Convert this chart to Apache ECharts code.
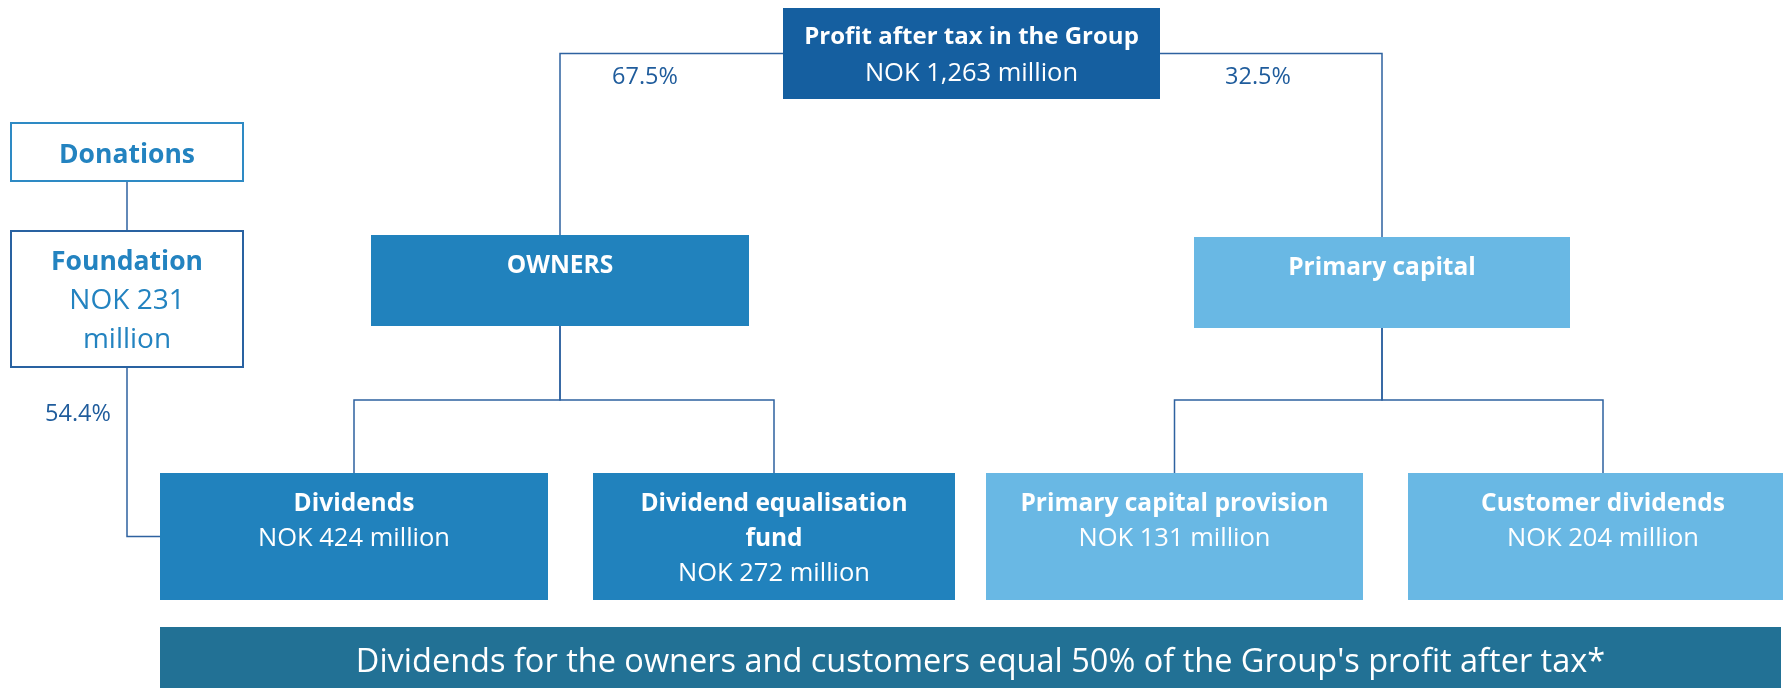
<!DOCTYPE html>
<html>
<head>
<meta charset="utf-8">
<script src="https://cdn.jsdelivr.net/npm/echarts@6/dist/echarts.min.js"></script>
<style>
  html, body { margin: 0; padding: 0; background: #fff; }
  #chart { width: 1783px; height: 688px; }
</style>
</head>
<body>
<div id="chart"></div>
<script>
// box texts (bold title lines, regular amount lines)
const boxTitles = [
  ['Profit after tax in the Group'],
  ['Donations'],
  ['Foundation'],
  ['OWNERS'],
  ['Primary capital'],
  ['Dividends'],
  ['Dividend equalisation', 'fund'],
  ['Primary capital provision'],
  ['Customer dividends']
]
const boxAmounts = [
  ['NOK 1,263 million'],
  [],
  ['NOK 231', 'million'],
  [],
  [],
  ['NOK 424 million'],
  ['NOK 272 million'],
  ['NOK 131 million'],
  ['NOK 204 million']
]
const shareLabels = ['67.5%', '32.5%', '54.4%']
const footnote = "Dividends for the owners and customers equal 50% of the Group's profit after tax*"

// layout (chart units = px of the 1783x688 canvas)
const boxRects = [
  [783, 8, 1160, 99],
  [11, 123, 243, 181],
  [11, 231, 243, 367],
  [371, 235, 749, 326],
  [1194, 237, 1570, 328],
  [160, 473, 548, 600],
  [593, 473, 955, 600],
  [986, 473, 1363, 600],
  [1408, 473, 1798, 600]
]
const boxKinds = ['dark', 'outline', 'outline2', 'mid', 'light', 'mid', 'mid', 'light', 'light']
const bannerRect = [160, 627, 1781, 688]
const sharePos = [[645, 77], [1258, 77], [78, 414]]
// [type, from, to, busY]
const links = [
  ['side', 0, 3], ['side', 0, 4],
  ['tree', 3, 5, 400], ['tree', 3, 6, 400],
  ['tree', 4, 7, 400], ['tree', 4, 8, 400],
  ['tree', 1, 2, 205], ['elbow', 2, 5]
]

const font = '"Open Sans", "Noto Sans", sans-serif'
const kindStyle = {
  dark: { fill: '#155fa0', stroke: null, text: '#fff' },
  mid: { fill: '#2182bd', stroke: null, text: '#fff' },
  light: { fill: '#69b8e4', stroke: null, text: '#fff' },
  outline: { fill: '#fff', stroke: '#2e8ac4', text: '#2383c0' },
  outline2: { fill: '#fff', stroke: '#2962a1', text: '#2383c0' }
}
// [title size, amount size, line step, first line offset]
const kindFont = {
  dark: [24, 25.5, 37, 29],
  mid: [24.5, 25.5, 35, 31],
  light: [24.5, 25.5, 35, 31],
  outline: [26.5, 28, 38, 32],
  outline2: [26.5, 28, 39, 31]
}

const cx = r => (r[0] + r[2]) / 2
const cy = r => (r[1] + r[3]) / 2

function linkPoints(l) {
  const a = boxRects[l[1]], b = boxRects[l[2]]
  if (l[0] === 'side') {
    const sx = cx(b) < cx(a) ? a[0] : a[2]
    return [[sx, cy(a)], [cx(b), cy(a)], [cx(b), b[1]]]
  }
  if (l[0] === 'tree') {
    return [[cx(a), a[3]], [cx(a), l[3]], [cx(b), l[3]], [cx(b), b[1]]]
  }
  return [[cx(a), a[3]], [cx(a), cy(b)], [b[0], cy(b)]]
}

const chart = echarts.init(document.getElementById('chart'))

chart.setOption({
  animation: false,
  grid: { left: 0, right: 0, top: 0, bottom: 0 },
  xAxis: { type: 'value', min: 0, max: 1783, show: false },
  yAxis: { type: 'value', min: 0, max: 688, inverse: true, show: false },
  series: [
    {
      // connectors
      type: 'custom',
      coordinateSystem: 'cartesian2d',
      data: links.map((l, i) => [i]),
      renderItem: (params, api) => {
        const pts = linkPoints(links[api.value(0)]).map(p => api.coord(p))
        return {
          type: 'polyline',
          shape: { points: pts },
          style: { stroke: '#2e62a0', lineWidth: 1.5, fill: null }
        }
      }
    },
    {
      // boxes
      type: 'custom',
      coordinateSystem: 'cartesian2d',
      data: boxRects.map((r, i) => [i]),
      renderItem: (params, api) => {
        const i = api.value(0)
        const r = boxRects[i]
        const k = kindStyle[boxKinds[i]]
        const f = kindFont[boxKinds[i]]
        const p0 = api.coord([r[0], r[1]])
        const p1 = api.coord([r[2], r[3]])
        const children = [{
          type: 'rect',
          shape: { x: p0[0], y: p0[1], width: p1[0] - p0[0], height: p1[1] - p0[1] },
          style: { fill: k.fill, stroke: k.stroke, lineWidth: k.stroke ? 2 : 0 }
        }]
        const lines = boxTitles[i].map(t => [t, 'bold', f[0]])
          .concat(boxAmounts[i].map(t => [t, 'normal', f[1]]))
        const mid = p0[0] + (p1[0] - p0[0]) / 2
        lines.forEach((ln, j) => {
          children.push({
            type: 'text',
            style: {
              text: ln[0], x: mid, y: p0[1] + f[3] + j * f[2],
              fill: k.text, fontFamily: font, fontWeight: ln[1], fontSize: ln[2],
              align: 'center', verticalAlign: 'middle'
            }
          })
        })
        return { type: 'group', children }
      }
    },
    {
      // footnote banner
      type: 'custom',
      coordinateSystem: 'cartesian2d',
      data: [[0]],
      renderItem: (params, api) => {
        const p0 = api.coord([bannerRect[0], bannerRect[1]])
        const p1 = api.coord([bannerRect[2], bannerRect[3]])
        return {
          type: 'group',
          children: [
            {
              type: 'rect',
              shape: { x: p0[0], y: p0[1], width: p1[0] - p0[0], height: p1[1] - p0[1] },
              style: { fill: '#227195' }
            },
            {
              type: 'text',
              style: {
                text: footnote, x: (p0[0] + p1[0]) / 2 + 10, y: (p0[1] + p1[1]) / 2 + 5,
                fill: '#fff', fontFamily: font, fontSize: 32.5,
                align: 'center', verticalAlign: 'middle'
              }
            }
          ]
        }
      }
    },
    {
      // percentage shares
      type: 'custom',
      coordinateSystem: 'cartesian2d',
      data: sharePos.map((p, i) => [p[0], p[1], i]),
      renderItem: (params, api) => {
        const p = api.coord([api.value(0), api.value(1)])
        return {
          type: 'text',
          style: {
            text: shareLabels[api.value(2)], x: p[0], y: p[1],
            fill: '#1f5c9c', fontFamily: font, fontSize: 23.5,
            align: 'center', verticalAlign: 'middle'
          }
        }
      }
    }
  ]
})
</script>
</body>
</html>
